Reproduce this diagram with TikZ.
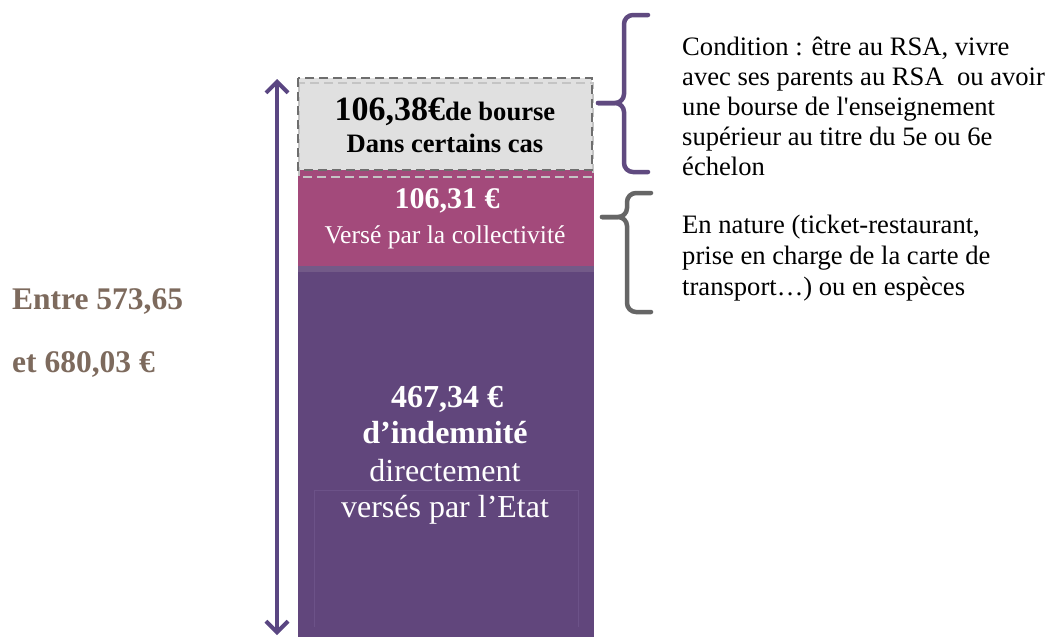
\documentclass[tikz,border=0pt]{standalone}
\usepackage{fontspec}
\setmainfont{Liberation Serif}
\usetikzlibrary{arrows.meta}
\definecolor{graybox}{HTML}{E0E0E0}
\definecolor{grayline}{HTML}{6E6E6E}
\definecolor{grayshadow}{HTML}{C4C4C4}
\definecolor{magbox}{HTML}{A34A7B}
\definecolor{purbox}{HTML}{61467C}
\definecolor{stripe}{HTML}{735A88}
\definecolor{innerc}{HTML}{6C5288}
\definecolor{arrowc}{HTML}{5A4682}
\definecolor{lefttxt}{HTML}{7D6A5D}
\definecolor{braceA}{HTML}{604A80}
\definecolor{braceB}{HTML}{666666}
\tikzset{
  boxpart/.style={anchor=north west, inner sep=0pt, outer sep=0pt, minimum width=296pt},
  txt/.style={anchor=base, inner sep=0pt},
  txtl/.style={anchor=base west, inner sep=0pt},
  sidetxt/.style={txtl, font=\fontsize{26.6}{30}\selectfont},
  bigbold/.style={txt, font=\fontsize{32}{36}\selectfont\bfseries},
  bigreg/.style={txt, font=\fontsize{32}{36}\selectfont},
  bracepath/.style={line width=4.5pt, rounded corners=9pt, line cap=round},
  lefttext/.style={txtl, text=lefttxt, font=\fontsize{31.5}{36}\selectfont\bfseries},
  barb/.tip={Straight Barb[length=11pt,width=22pt,line width=4pt]}
}
\begin{document}
\begin{tikzpicture}[x=1pt,y=-1pt]
\useasboundingbox[fill=white] (0,0) rectangle (1049,637);

% boxes
\node[boxpart, fill=purbox, minimum height=366pt] (etat) at (298,271) {};
\node[boxpart, fill=stripe, minimum height=6pt] (stripebar) at (298,266) {};
\node[boxpart, fill=magbox, minimum height=98pt] (coll) at (298,168) {};
\node[boxpart, fill=graybox, minimum height=92pt, minimum width=294pt] (bourse) at (298,78) {};
\draw[grayshadow, line width=1.2pt, dash pattern=on 9pt off 5pt] (299,83) rectangle (593,177);
\draw[grayline, line width=1.5pt, dash pattern=on 9pt off 5pt] (bourse.north west) rectangle (bourse.south east);
\draw[innerc, line width=0.8pt] (314,627) -- (314,490) -- (578,490) -- (578,627);

% texts in the boxes
\node[txt] (b1) at (445,120) {\bfseries{\fontsize{34}{40}\selectfont 106,38€}{\fontsize{26.6}{30}\selectfont de bourse}};
\node[txt, font=\fontsize{26.6}{30}\selectfont\bfseries] (b2) at (445,152) {Dans certains cas};
\node[txt, text=white, font=\fontsize{30}{34}\selectfont\bfseries] (c1) at (447,208) {106,31 €};
\node[txt, text=white, font=\fontsize{25.6}{30}\selectfont] (c2) at (445,243) {Versé par la collectivité};
\node[bigbold, text=white] (e1) at (447,407) {467,34 €};
\node[bigbold, text=white] (e2) at (445,443) {d’indemnité};
\node[bigreg, text=white] (e3) at (445,481) {directement};
\node[bigreg, text=white] (e4) at (445,517) {versés par l’Etat};

% left total
\node[lefttext] (l1) at (12,309) {Entre 573,65};
\node[lefttext] (l2) at (12,372) {et 680,03 €};

% double arrow
\coordinate (atop) at (277,79);
\coordinate (abot) at (277,635);
\draw[arrowc, line width=4.5pt, {barb}-{barb}] (atop) -- (abot);

% braces
\draw[braceA, bracepath] (648,15) -- (624,15) -- (624,103) -- (598,103);
\draw[braceA, bracepath] (598,103) -- (624,103) -- (624,172) -- (648,172);
\draw[braceB, bracepath] (651,193) -- (627,193) -- (627,217) -- (602,217);
\draw[braceB, bracepath] (602,217) -- (627,217) -- (627,312) -- (651,312);

% side texts
\node[sidetxt] (s1) at (682,55) {Condition : être au RSA, vivre};
\node[sidetxt] (s2) at (682,85) {avec ses parents au RSA\ \ ou avoir};
\node[sidetxt] (s3) at (682,115) {une bourse de l\textquotesingle enseignement};
\node[sidetxt] (s4) at (682,145) {supérieur au titre du 5e ou 6e};
\node[sidetxt] (s5) at (682,175) {échelon};
\node[sidetxt] (t1) at (682,233) {En nature (ticket-restaurant,};
\node[sidetxt] (t2) at (682,264) {prise en charge de la carte de};
\node[sidetxt] (t3) at (682,295) {transport…) ou en espèces};
\end{tikzpicture}
\end{document}
